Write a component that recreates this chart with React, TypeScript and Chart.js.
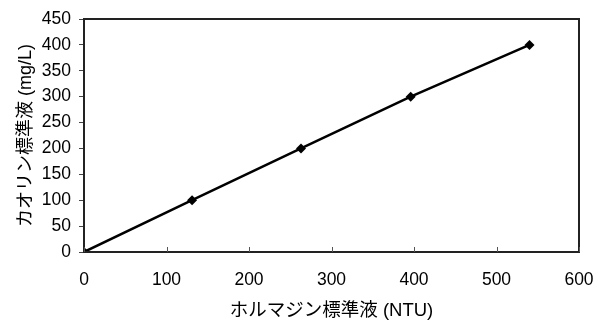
import React, { useEffect, useRef } from "react";
import { Chart, registerables } from "chart.js";

Chart.register(...registerables);

const xValues = [0, 131, 263, 396, 540];
const yValues = [0, 100, 200, 300, 400];
const xTitle = "ホルマジン標準液 (NTU)";
const yTitle = "カオリン標準液 (mg/L)";

const FONT = "'Liberation Sans', Arial, 'Noto Sans CJK JP', sans-serif";

const framePlugin = {
  id: "frame",
  afterDatasetsDraw(chart: any) {
    const { ctx, chartArea, scales } = chart;
    ctx.save();
    ctx.strokeStyle = "#222";
    ctx.lineWidth = 2;
    ctx.strokeRect(chartArea.left, chartArea.top, chartArea.right - chartArea.left, chartArea.bottom - chartArea.top);
    ctx.lineWidth = 1;
    ctx.strokeStyle = "#555";
    const xs = scales.x;
    xs.ticks.forEach((t: any) => {
      const px = Math.round(xs.getPixelForValue(t.value)) + 0.5;
      ctx.beginPath();
      ctx.moveTo(px, chartArea.bottom);
      ctx.lineTo(px, chartArea.bottom - 5);
      ctx.stroke();
    });
    ctx.restore();
  },
};

export default function App() {
  const ref = useRef<HTMLCanvasElement>(null);
  useEffect(() => {
    if (!ref.current) return;
    const chart = new Chart(ref.current, {
      type: "scatter",
      data: {
        datasets: [
          {
            data: xValues.map((x, i) => ({ x, y: yValues[i] })),
            showLine: true,
            borderColor: "#000",
            backgroundColor: "#000",
            borderWidth: 2.5,
            pointStyle: "rectRot",
            pointRadius: 5,
            pointBorderWidth: 0,
          },
        ],
      },
      options: {
        responsive: false,
        animation: false,
        devicePixelRatio: 1,
        layout: { padding: { top: 19, right: 23, left: 0, bottom: 0 } },
        plugins: { legend: { display: false }, tooltip: { enabled: false } },
        scales: {
          x: {
            type: "linear",
            min: 0,
            max: 600,
            ticks: { stepSize: 100, color: "#000", font: { family: FONT, size: 17.5 }, padding: 18 },
            grid: { display: true, drawOnChartArea: false, drawTicks: false },
            border: { display: false },
            title: { display: true, text: xTitle, color: "#000", font: { family: FONT, size: 18.5 }, padding: { top: 0, bottom: 1 } },
            afterFit(s: any) {
              s.height = 71;
              s.paddingLeft = 0;
              s.paddingRight = 0;
            },
          },
          y: {
            type: "linear",
            min: 0,
            max: 450,
            ticks: { stepSize: 50, color: "#000", font: { family: FONT, size: 17.5 }, padding: 8 },
            grid: { display: true, drawOnChartArea: false, drawTicks: true, tickLength: 5, color: "#444" },
            border: { display: false },
            title: { display: true, text: yTitle, color: "#000", font: { family: FONT, size: 18 }, padding: { top: 15, bottom: 0 } },
            afterFit(s: any) {
              s.width = 84;
              s.paddingTop = 0;
              s.paddingBottom = 0;
            },
          },
        },
      },
      plugins: [framePlugin],
    });
    return () => chart.destroy();
  }, []);
  return (
    <div style={{ position: "absolute", left: 0, top: 0, width: 602, height: 323, background: "#fff" }}>
      <canvas ref={ref} width={602} height={323} />
    </div>
  );
}
